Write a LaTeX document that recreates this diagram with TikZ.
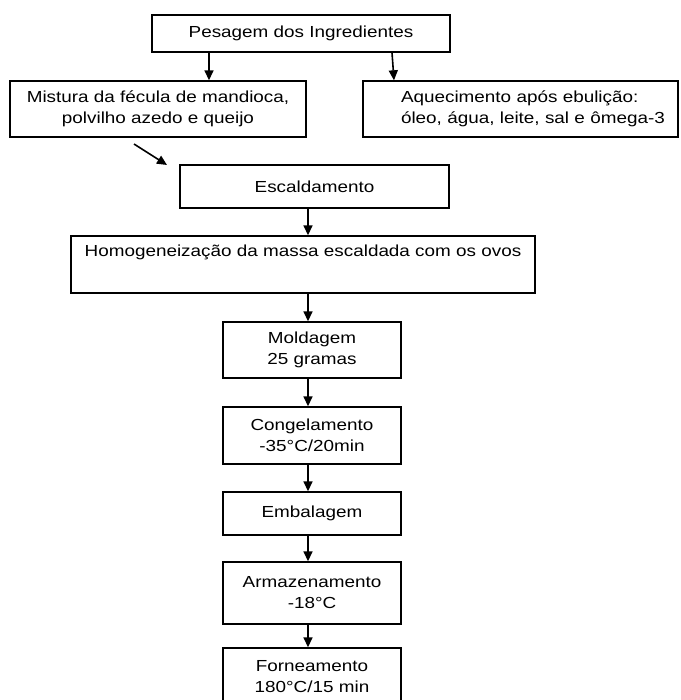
\documentclass[tikz,border=0pt]{standalone}
\usepackage{fontspec}
\setmainfont{Liberation Sans}[FakeStretch=1.18]
\usetikzlibrary{arrows.meta}
\begin{document}
\begin{tikzpicture}[x=1pt,y=-1pt,
  box/.style={draw, line width=1.4pt, inner sep=0pt, align=center,
    font=\fontsize{16}{21}\selectfont},
  arr/.style={line width=1.6pt, -{Triangle[length=10pt,width=9pt]}}]
\useasboundingbox (0,0) rectangle (680,700);
\node[box, minimum width=298pt, minimum height=37pt] (P) at (301,33.5) {Pesagem dos Ingredientes};
\node[box, minimum width=296pt, minimum height=56pt] (M) at (158,109) {Mistura da fécula de mandioca,\\polvilho azedo e queijo};
\node[box, text width=315pt, align=left, minimum height=56pt] (A) at (520.5,109) {\hspace*{38pt}Aquecimento após ebulição:\\\hspace*{38pt}óleo, água, leite, sal e ômega-3};
\node[box, minimum width=269pt, minimum height=43pt] (E) at (314.5,186.5) {Escaldamento};
\node[box, minimum width=464pt, minimum height=57pt] (H) at (303,264.5) {Homogeneização da massa escaldada com os ovos\\\strut};
\node[box, minimum width=178pt, minimum height=56pt] (Mo) at (312,350) {Moldagem\\25 gramas};
\node[box, minimum width=178pt, minimum height=57pt] (C) at (312,435.5) {Congelamento\\-35°C/20min};
\node[box, minimum width=178pt, minimum height=43pt] (Em) at (312,513.5) {Embalagem};
\node[box, minimum width=178pt, minimum height=62pt] (Ar) at (312,593) {Armazenamento\\-18°C};
\node[box, minimum width=178pt, minimum height=58pt] (F) at (312,677) {Forneamento\\180°C/15 min};
\coordinate (ax) at (308,0);
\coordinate (pl) at (209,0);
\coordinate (pr1) at (392,0);
\coordinate (pr2) at (394,0);
\coordinate (d1) at (134,144);
\coordinate (d2) at (167,165);
\draw[arr] (P.south -| pl) -- (M.north -| pl);
\draw[arr] (P.south -| pr1) -- (A.north -| pr2);
\draw[arr] (d1) -- (d2);
\draw[arr] (E.south -| ax) -- (H.north -| ax);
\draw[arr] (H.south -| ax) -- (Mo.north -| ax);
\draw[arr] (Mo.south -| ax) -- (C.north -| ax);
\draw[arr] (C.south -| ax) -- (Em.north -| ax);
\draw[arr] (Em.south -| ax) -- (Ar.north -| ax);
\draw[arr] (Ar.south -| ax) -- (F.north -| ax);
\end{tikzpicture}
\end{document}
